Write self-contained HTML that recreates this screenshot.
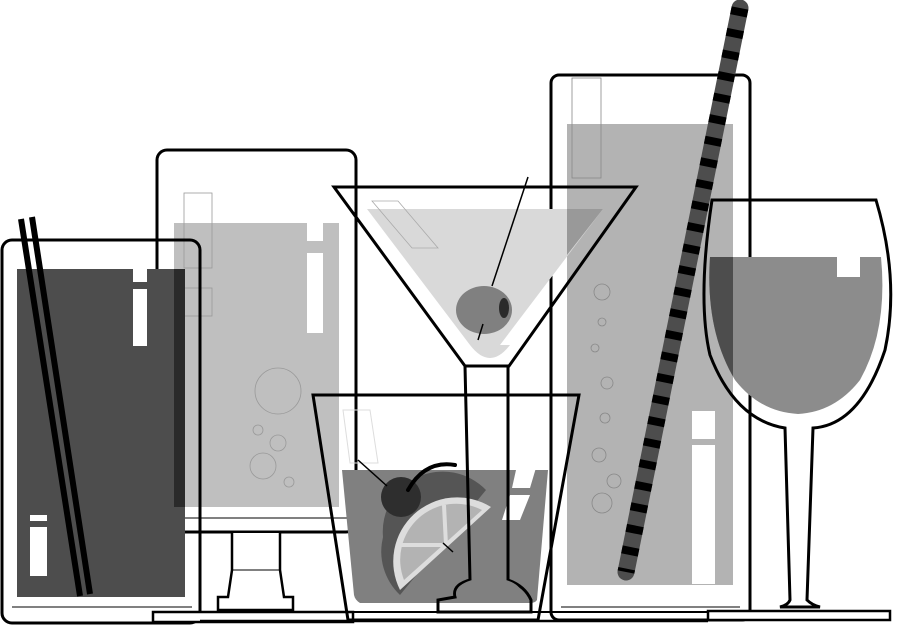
<!DOCTYPE html>
<html><head><style>html,body{margin:0;padding:0;background:#fff}svg{display:block}</style></head>
<body>
<svg width="900" height="625" viewBox="0 0 900 625" xmlns="http://www.w3.org/2000/svg">
<defs>
<clipPath id="wl"><path d="M710 257 L881 257 Q888 330 860 380 Q835 412 798 414 Q760 412 735 380 Q705 330 710 257 Z"/></clipPath>
</defs>
<rect width="900" height="625" fill="#fff"/>
<rect x="174" y="223" width="165" height="284" fill="#bfbfbf"/>
<rect x="307" y="216" width="16" height="25" fill="#fff"/>
<rect x="307" y="253" width="16" height="80" fill="#fff"/>
<g fill="none" stroke="#999" stroke-width="0.8">
<circle cx="278" cy="391" r="23"/><circle cx="258" cy="430" r="5"/><circle cx="278" cy="443" r="8"/><circle cx="263" cy="466" r="13"/><circle cx="289" cy="482" r="5"/>
<rect x="184" y="193" width="28" height="75"/><rect x="184" y="288" width="28" height="28"/>
</g>
<rect x="157" y="150" width="199" height="382" rx="10" fill="none" stroke="#000" stroke-width="3"/>
<line x1="167" y1="518" x2="347" y2="518" stroke="#000" stroke-width="1"/>
<path d="M232 533 L232 570 L228 597 L218 597 L218 610 L293 610 L293 597 L284 597 L280 570 L280 533" fill="#fff" stroke="#000" stroke-width="2.5"/>
<line x1="233" y1="570" x2="279" y2="570" stroke="#000" stroke-width="1"/>
<rect x="17" y="269" width="168" height="328" fill="#4d4d4d"/>
<rect x="174" y="269" width="11" height="238" fill="#2a2a2a"/>
<rect x="133" y="260" width="14" height="22" fill="#fff"/>
<rect x="133" y="289" width="14" height="57" fill="#fff"/>
<rect x="30" y="515" width="17" height="6" fill="#fff"/>
<rect x="30" y="527" width="17" height="49" fill="#fff"/>
<line x1="21" y1="219" x2="80" y2="596" stroke="#000" stroke-width="6"/>
<line x1="32" y1="217" x2="90" y2="594" stroke="#000" stroke-width="6"/>
<rect x="2" y="240" width="198" height="383" rx="10" fill="none" stroke="#000" stroke-width="3"/>
<line x1="12" y1="607" x2="192" y2="607" stroke="#000" stroke-width="1"/>
<rect x="153" y="612" width="200" height="10" fill="#fff" stroke="#000" stroke-width="2.5"/>
<rect x="567" y="124" width="166" height="461" fill="#b3b3b3"/>
<rect x="692" y="411" width="23" height="28" fill="#fff"/>
<rect x="692" y="445" width="23" height="139" fill="#fff"/>
<g fill="none" stroke="#888" stroke-width="0.8">
<circle cx="602" cy="292" r="8"/><circle cx="602" cy="322" r="4"/><circle cx="595" cy="348" r="4"/><circle cx="607" cy="383" r="6"/><circle cx="605" cy="418" r="5"/><circle cx="599" cy="455" r="7"/><circle cx="614" cy="481" r="7"/><circle cx="602" cy="503" r="10"/>
<rect x="572" y="78" width="29" height="100"/>
</g>
<rect x="551" y="75" width="199" height="545" rx="8" fill="none" stroke="#000" stroke-width="3"/>
<line x1="561" y1="607" x2="740" y2="607" stroke="#000" stroke-width="1"/>
<polygon points="367,209 603,209 500,345 470,345" fill="#d9d9d9"/>
<polygon points="567,209 603,209 567,255" fill="#999"/>
<path d="M470 345 Q480 358 490 358 Q500 358 510 345 Z" fill="#d9d9d9"/>
<polygon points="372,201 398,201 438,248 412,248" fill="none" stroke="#aaa" stroke-width="0.8"/>
<ellipse cx="484" cy="310" rx="28" ry="24" fill="#808080"/>
<ellipse cx="504" cy="308" rx="5" ry="10" fill="#2a2a2a"/>
<line x1="528" y1="177" x2="492" y2="286" stroke="#000" stroke-width="1.5"/>
<line x1="483" y1="324" x2="478" y2="340" stroke="#000" stroke-width="1.5"/>
<path d="M334 187 L636 187 L509 366 L465 366 Z" fill="none" stroke="#000" stroke-width="3"/>
<path d="M342 470 L548 470 L537 600 Q535 603 530 603 L360 603 Q355 600 354 595 Z" fill="#808080"/>
<polygon points="518,461 538,461 530,488 512,488" fill="#fff"/>
<polygon points="510,495 530,495 520,520 502,520" fill="#fff"/>
<polygon points="343,410 370,410 378,463 350,463" fill="none" stroke="#ddd" stroke-width="1"/>
<path d="M383 537 A60 60 0 0 1 486 490 L400 595 A60 60 0 0 1 383 537 Z" fill="#555"/>
<path d="M400 590 L491 507 A64 64 0 0 0 400 590 Z" fill="#ddd"/>
<path d="M404 580 L482 510 A56 56 0 0 0 404 580 Z" fill="#b3b3b3"/>
<g stroke="#ddd" stroke-width="4"><line x1="446" y1="545" x2="400" y2="545"/><line x1="446" y1="545" x2="444" y2="505"/></g>
<line x1="443" y1="543" x2="453" y2="552" stroke="#000" stroke-width="1.5"/>
<circle cx="401" cy="497" r="20" fill="#2e2e2e"/>
<line x1="358" y1="460" x2="387" y2="486" stroke="#000" stroke-width="1.5"/>
<path d="M408 490 Q425 460 455 465" fill="none" stroke="#000" stroke-width="4" stroke-linecap="round"/>
<path d="M465 366 L470 580 Q452 585 455 597 L438 600 L438 612 L531 612 L531 600 Q525 586 508 580 L508 366" fill="none" stroke="#000" stroke-width="3"/>
<path d="M472 580 Q452 586 457 598 L520 598 Q525 586 506 580 Z" fill="#808080"/>
<polygon points="313,395 579,395 538,620 348,620" fill="none" stroke="#000" stroke-width="3"/>
<line x1="740" y1="8" x2="626" y2="572" stroke="#4d4d4d" stroke-width="17" stroke-linecap="round"/>
<line x1="740" y1="8" x2="626" y2="572" stroke="#000" stroke-width="17" stroke-dasharray="8 14"/>
<path d="M710 257 L881 257 Q888 330 860 380 Q835 412 798 414 Q760 412 735 380 Q705 330 710 257 Z" fill="#8c8c8c"/>
<rect x="700" y="257" width="33" height="160" fill="#4d4d4d" clip-path="url(#wl)"/>
<rect x="837" y="218" width="23" height="59" fill="#fff"/>
<path d="M712 200 L876 200 Q900 280 885 350 Q860 425 813 428 L807 600 Q812 605 820 607 L780 607 Q788 605 790 600 L785 428 Q735 420 710 355 Q697 300 712 200 Z" fill="none" stroke="#000" stroke-width="3"/>
<rect x="708" y="611" width="182" height="9" fill="#fff" stroke="#000" stroke-width="2.5"/>
<line x1="200" y1="612" x2="708" y2="612" stroke="#000" stroke-width="2"/>
<line x1="200" y1="621" x2="708" y2="621" stroke="#000" stroke-width="2.5"/>
</svg>
</body></html>
